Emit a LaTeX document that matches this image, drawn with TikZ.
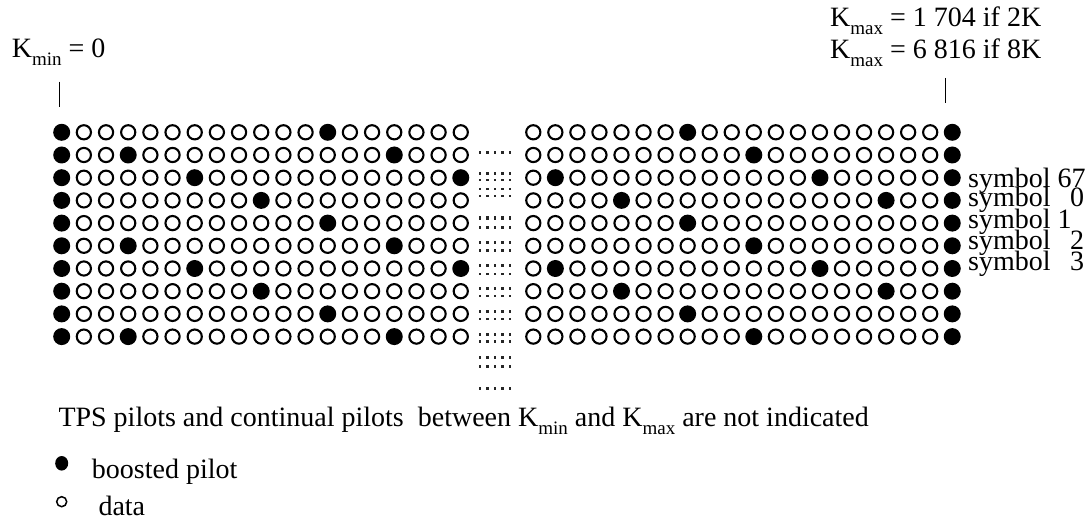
\documentclass[tikz,border=0pt]{standalone}
\usepackage{fontspec}
\setmainfont{Liberation Serif}
\newcommand\lowsub[1]{\raisebox{-0.28em}{\fontsize{19}{19}\selectfont #1}}
\begin{document}
\begin{tikzpicture}[x=1pt,y=-1pt,
  txt/.style={inner sep=0pt, anchor=base west, font=\fontsize{28}{30}\selectfont},
  pilot/.style={circle, fill=black, minimum size=17pt, inner sep=0pt},
  datac/.style={circle, draw=black, line width=2.1pt, minimum size=14.2pt, inner sep=0pt},
  tickline/.style={line width=1.3pt},
  gapdot/.style={rectangle, fill=black!85, inner sep=0pt, minimum width=2.5pt}]
\useasboundingbox (0,0) rectangle (1092,521);

% left block of carriers
\foreach \r in {0,...,9}{
  \pgfmathsetmacro\yy{132.3+22.7*\r}
  \foreach \i in {0,...,18}{
    \pgfmathtruncatemacro\m{mod(\i+36-3*\r,12)}
    \pgfmathsetmacro\xx{61.7+22.17*\i}
    \ifnum\i=0 \def\st{pilot}\else\ifnum\m=0 \def\st{pilot}\else\def\st{datac}\fi\fi
    \node[\st] (L-\r-\i) at (\xx,\yy) {};
  }
}
% right block of carriers
\foreach \r in {0,...,9}{
  \pgfmathsetmacro\yy{132.3+22.7*\r}
  \foreach \j in {0,...,19}{
    \pgfmathtruncatemacro\m{mod(\j+41-3*\r,12)}
    \pgfmathsetmacro\xx{533.3+22.05*\j}
    \ifnum\j=19 \def\st{pilot}\else\ifnum\m=0 \def\st{pilot}\else\def\st{datac}\fi\fi
    \node[\st] (R-\r-\j) at (\xx,\yy) {};
  }
}
% dotted gap
\foreach \gy/\gh [count=\n] in {152.3/2.5, 173.3/2.5, 180/2.5, 189/2.5, 196/2.5,
   218/4.5, 227.7/2.5, 242.7/2.5, 250.7/2.5, 265.7/2.5, 274/2.5, 288.3/2.5, 296/2.5,
   311.7/3.2, 319/2.5, 334.3/2.5, 341.7/2.5, 357.3/2.5, 366.7/2.5, 388.3/2.5}{
  \foreach \k in {0,...,4}{
    \node[gapdot, minimum height=\gh pt] (G\n-\k) at (480+7.5*\k,\gy) {};
  }
}

% K labels and ticks
\node[txt] (kmin) at (11.7,58) {K\lowsub{min} = 0};
\node[txt] (kmax1) at (830,26.7) {K\lowsub{max} = 1 704 if 2K};
\node[txt] (kmax2) at (830,58.3) {K\lowsub{max} = 6 816 if 8K};
\coordinate (tl1) at (59.3,81.7);
\coordinate (tl2) at (59.3,106.7);
\coordinate (tr1) at (945.7,78);
\coordinate (tr2) at (945.7,103.3);
\draw[tickline] (tl1) -- (tl2);
\draw[tickline] (tr1) -- (tr2);

% symbol labels
\node[txt] (s67) at (968,187.3) {symbol 67};
\node[txt] (s0) at (968,206.7) {symbol \hspace{0.45em}0};
\node[txt] (s1) at (968,228.3) {symbol 1};
\node[txt] (s2) at (968,250) {symbol \hspace{0.45em}2};
\node[txt] (s3) at (968,270.7) {symbol \hspace{0.45em}3};

% note and legend
\node[txt] (note) at (58.3,426.7) {TPS pilots and continual pilots \ between K\lowsub{min} and K\lowsub{max} are not indicated};
\node[circle, fill=black, minimum width=13pt, inner sep=0pt, yscale=1.12] (legp) at (61.7,463.3) {};
\node[txt] (legpt) at (91.7,478.3) {boosted pilot};
\node[circle, draw=black, line width=1.5pt, minimum size=10pt, inner sep=0pt] (legd) at (61.7,501.7) {};
\node[txt] (legdt) at (98.3,515) {data};
\end{tikzpicture}
\end{document}
